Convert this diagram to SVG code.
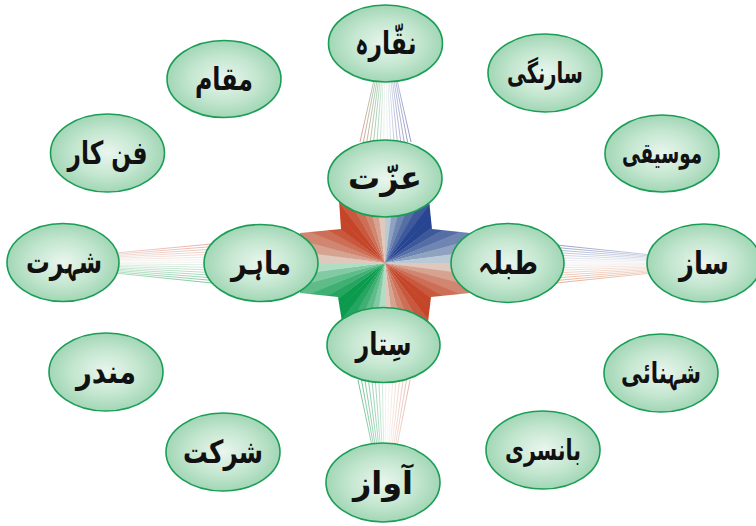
<svg xmlns="http://www.w3.org/2000/svg" xmlns:xlink="http://www.w3.org/1999/xlink" width="756" height="526" viewBox="0 0 756 526">
<style>
.n ellipse{fill:url(#eg);stroke:#1a9e55;stroke-width:1.6}
.n text{font-family:"DejaVu Sans",sans-serif;font-weight:bold;font-size:32px;fill:#111;text-anchor:middle;direction:rtl}
.n text.s{font-size:29px}
.fan{fill:none;stroke-width:0.8;stroke-opacity:0.9}
</style>
<defs>
<radialGradient id="eg" cx="0.5" cy="0.5" r="0.5">
<stop offset="0" stop-color="#eaf6ee"/>
<stop offset="0.6" stop-color="#c3e6cf"/>
<stop offset="1" stop-color="#a2d6b6"/>
</radialGradient>
<linearGradient id="gTop" gradientUnits="userSpaceOnUse" x1="360" y1="0" x2="411" y2="0">
<stop offset="0" stop-color="#d07a68"/><stop offset="0.35" stop-color="#8cc8a2"/><stop offset="0.5" stop-color="#f2f6f0"/><stop offset="0.7" stop-color="#a0a8d0"/><stop offset="1" stop-color="#6a6eb0"/>
</linearGradient>
<linearGradient id="gBot" gradientUnits="userSpaceOnUse" x1="358" y1="0" x2="410" y2="0">
<stop offset="0" stop-color="#3aa86c"/><stop offset="0.4" stop-color="#90ceaa"/><stop offset="0.55" stop-color="#f6f6f0"/><stop offset="1" stop-color="#e09a84"/>
</linearGradient>
<linearGradient id="gLeft" gradientUnits="userSpaceOnUse" x1="0" y1="244" x2="0" y2="283">
<stop offset="0" stop-color="#e0907e"/><stop offset="0.45" stop-color="#f4f2ee"/><stop offset="0.6" stop-color="#b8e0c6"/><stop offset="1" stop-color="#4cb078"/>
</linearGradient>
<linearGradient id="gRight" gradientUnits="userSpaceOnUse" x1="0" y1="245" x2="0" y2="283">
<stop offset="0" stop-color="#6a78b0"/><stop offset="0.45" stop-color="#eef0f2"/><stop offset="0.6" stop-color="#f0d8cc"/><stop offset="1" stop-color="#e08a68"/>
</linearGradient>
<clipPath id="starClip">
<polygon points="339,200 429,200 432,229 470,233 470,293 431,297 428,322 342,322 338,297 300,293 300,233 341,229"/>
</clipPath>
<path id="w" d="M0 0 L0 -130 L18.1 -128.7 Z"/>
</defs>
<rect width="756" height="526" fill="#fff"/>
<g id="hub" clip-path="url(#starClip)">
<g transform="translate(385 263)">
<use xlink:href="#w" fill="#b9c9d5" transform="rotate(0)"/>
<use xlink:href="#w" fill="#8fa3c1" transform="rotate(7.5)"/>
<use xlink:href="#w" fill="#7086b2" transform="rotate(15)"/>
<use xlink:href="#w" fill="#556ea6" transform="rotate(22.5)"/>
<use xlink:href="#w" fill="#3e599b" transform="rotate(30)"/>
<use xlink:href="#w" fill="#284591" transform="rotate(37.5)"/>
<use xlink:href="#w" fill="#284591" transform="rotate(45)"/>
<use xlink:href="#w" fill="#3e599b" transform="rotate(52.5)"/>
<use xlink:href="#w" fill="#556ea6" transform="rotate(60)"/>
<use xlink:href="#w" fill="#7086b2" transform="rotate(67.5)"/>
<use xlink:href="#w" fill="#8fa3c1" transform="rotate(75)"/>
<use xlink:href="#w" fill="#b9c9d5" transform="rotate(82.5)"/>
<use xlink:href="#w" fill="#dec9bc" transform="rotate(90)"/>
<use xlink:href="#w" fill="#d7a391" transform="rotate(97.5)"/>
<use xlink:href="#w" fill="#d18671" transform="rotate(105)"/>
<use xlink:href="#w" fill="#cd6e56" transform="rotate(112.5)"/>
<use xlink:href="#w" fill="#c9593e" transform="rotate(120)"/>
<use xlink:href="#w" fill="#c54528" transform="rotate(127.5)"/>
<use xlink:href="#w" fill="#c54528" transform="rotate(135)"/>
<use xlink:href="#w" fill="#c9593e" transform="rotate(142.5)"/>
<use xlink:href="#w" fill="#cd6e56" transform="rotate(150)"/>
<use xlink:href="#w" fill="#d18671" transform="rotate(157.5)"/>
<use xlink:href="#w" fill="#d7a391" transform="rotate(165)"/>
<use xlink:href="#w" fill="#dec9bc" transform="rotate(172.5)"/>
<use xlink:href="#w" fill="#b2ddc5" transform="rotate(180)"/>
<use xlink:href="#w" fill="#82caa3" transform="rotate(187.5)"/>
<use xlink:href="#w" fill="#5ebc89" transform="rotate(195)"/>
<use xlink:href="#w" fill="#40af73" transform="rotate(202.5)"/>
<use xlink:href="#w" fill="#25a560" transform="rotate(210)"/>
<use xlink:href="#w" fill="#0c9b4e" transform="rotate(217.5)"/>
<use xlink:href="#w" fill="#0c9b4e" transform="rotate(225)"/>
<use xlink:href="#w" fill="#25a560" transform="rotate(232.5)"/>
<use xlink:href="#w" fill="#40af73" transform="rotate(240)"/>
<use xlink:href="#w" fill="#5ebc89" transform="rotate(247.5)"/>
<use xlink:href="#w" fill="#82caa3" transform="rotate(255)"/>
<use xlink:href="#w" fill="#b2ddc5" transform="rotate(262.5)"/>
<use xlink:href="#w" fill="#dec9bc" transform="rotate(270)"/>
<use xlink:href="#w" fill="#d7a391" transform="rotate(277.5)"/>
<use xlink:href="#w" fill="#d18671" transform="rotate(285)"/>
<use xlink:href="#w" fill="#cd6e56" transform="rotate(292.5)"/>
<use xlink:href="#w" fill="#c9593e" transform="rotate(300)"/>
<use xlink:href="#w" fill="#c54528" transform="rotate(307.5)"/>
<use xlink:href="#w" fill="#c54528" transform="rotate(315)"/>
<use xlink:href="#w" fill="#c9593e" transform="rotate(322.5)"/>
<use xlink:href="#w" fill="#cd6e56" transform="rotate(330)"/>
<use xlink:href="#w" fill="#d18671" transform="rotate(337.5)"/>
<use xlink:href="#w" fill="#d7a391" transform="rotate(345)"/>
<use xlink:href="#w" fill="#dec9bc" transform="rotate(352.5)"/>
</g>
</g>
<g id="connectors">
<path class="fan" stroke="url(#gTop)" d="M360 142L374 80M363.4 142L375.5 80M366.8 142L377.1 80M370.2 142L378.6 80M373.6 142L380.1 80M377 142L381.7 80M380.4 142L383.2 80M383.8 142L384.7 80M387.2 142L386.3 80M390.6 142L387.8 80M394 142L389.3 80M397.4 142L390.9 80M400.8 142L392.4 80M404.2 142L393.9 80M407.6 142L395.5 80M411 142L397 80"/>
<path class="fan" stroke="url(#gBot)" d="M358 380L372 446M361.5 380L373.7 446M364.9 380L375.3 446M368.4 380L377 446M371.9 380L378.7 446M375.3 380L380.3 446M378.8 380L382 446M382.3 380L383.7 446M385.7 380L385.3 446M389.2 380L387 446M392.7 380L388.7 446M396.1 380L390.3 446M399.6 380L392 446M403.1 380L393.7 446M406.5 380L395.3 446M410 380L397 446"/>
<path class="fan" stroke="url(#gLeft)" d="M212 244L115 253M212 246.6L115 254.3M212 249.2L115 255.7M212 251.8L115 257M212 254.4L115 258.3M212 257L115 259.7M212 259.6L115 261M212 262.2L115 262.3M212 264.8L115 263.7M212 267.4L115 265M212 270L115 266.3M212 272.6L115 267.7M212 275.2L115 269M212 277.8L115 270.3M212 280.4L115 271.7M212 283L115 273"/>
<path class="fan" stroke="url(#gRight)" d="M556 245L652 255M556 247.5L652 256.2M556 250.1L652 257.4M556 252.6L652 258.6M556 255.1L652 259.8M556 257.7L652 261M556 260.2L652 262.2M556 262.7L652 263.4M556 265.3L652 264.6M556 267.8L652 265.8M556 270.3L652 267M556 272.9L652 268.2M556 275.4L652 269.4M556 277.9L652 270.6M556 280.5L652 271.8M556 283L652 273"/>
</g>
<g id="naqqara" class="n"><ellipse cx="385.5" cy="43.5" rx="57" ry="38.5"/><text x="385.5" y="54" textLength="62" lengthAdjust="spacingAndGlyphs">نقّارہ</text></g>
<g id="maqam" class="n"><ellipse cx="224" cy="79" rx="57" ry="38.5"/><text x="224" y="90" textLength="58" lengthAdjust="spacingAndGlyphs">مقام</text></g>
<g id="sarangi" class="n"><ellipse cx="545" cy="73" rx="57" ry="39"/><text class="s" x="545" y="83" textLength="76" lengthAdjust="spacingAndGlyphs">سارنگی</text></g>
<g id="fankar" class="n"><ellipse cx="107.5" cy="153" rx="57" ry="39"/><text x="107.5" y="164" textLength="80" lengthAdjust="spacingAndGlyphs">فن کار</text></g>
<g id="izzat" class="n"><ellipse cx="385" cy="178.5" rx="57" ry="38.5"/><text x="385" y="189" textLength="74" lengthAdjust="spacingAndGlyphs">عزّت</text></g>
<g id="mausiqi" class="n"><ellipse cx="662" cy="153.5" rx="57" ry="38.5"/><text class="s" x="662" y="163" textLength="80" lengthAdjust="spacingAndGlyphs">موسیقی</text></g>
<g id="shohrat" class="n"><ellipse cx="63" cy="262.5" rx="56" ry="39"/><text x="64" y="273" textLength="76" lengthAdjust="spacingAndGlyphs">شہرت</text></g>
<g id="mahir" class="n"><ellipse cx="261" cy="263" rx="57" ry="38.5"/><text x="261" y="274" textLength="60" lengthAdjust="spacingAndGlyphs">ماہر</text></g>
<g id="tabla" class="n"><ellipse cx="507.5" cy="263" rx="56.5" ry="39.5"/><text x="508" y="274" textLength="60" lengthAdjust="spacingAndGlyphs">طبلہ</text></g>
<g id="saz" class="n"><ellipse cx="704" cy="263" rx="57" ry="39"/><text x="704" y="274" textLength="50" lengthAdjust="spacingAndGlyphs">ساز</text></g>
<g id="sitar" class="n"><ellipse cx="383.5" cy="345" rx="56.5" ry="37.5"/><text x="383.5" y="355" textLength="56" lengthAdjust="spacingAndGlyphs">سِتار</text></g>
<g id="mandar" class="n"><ellipse cx="106" cy="372" rx="57" ry="39"/><text x="106" y="383" textLength="60" lengthAdjust="spacingAndGlyphs">مندر</text></g>
<g id="shehnai" class="n"><ellipse cx="661" cy="373" rx="57" ry="39"/><text class="s" x="661" y="383" textLength="80" lengthAdjust="spacingAndGlyphs">شہنائی</text></g>
<g id="shirkat" class="n"><ellipse cx="223" cy="452" rx="57" ry="39"/><text x="223" y="463" textLength="80" lengthAdjust="spacingAndGlyphs">شرکت</text></g>
<g id="awaz" class="n"><ellipse cx="383" cy="482.5" rx="57" ry="39.5"/><text x="383" y="494" textLength="60" lengthAdjust="spacingAndGlyphs">آواز</text></g>
<g id="bansuri" class="n"><ellipse cx="543" cy="450" rx="57" ry="39"/><text class="s" x="543" y="460" textLength="76" lengthAdjust="spacingAndGlyphs">بانسری</text></g>
</svg>
